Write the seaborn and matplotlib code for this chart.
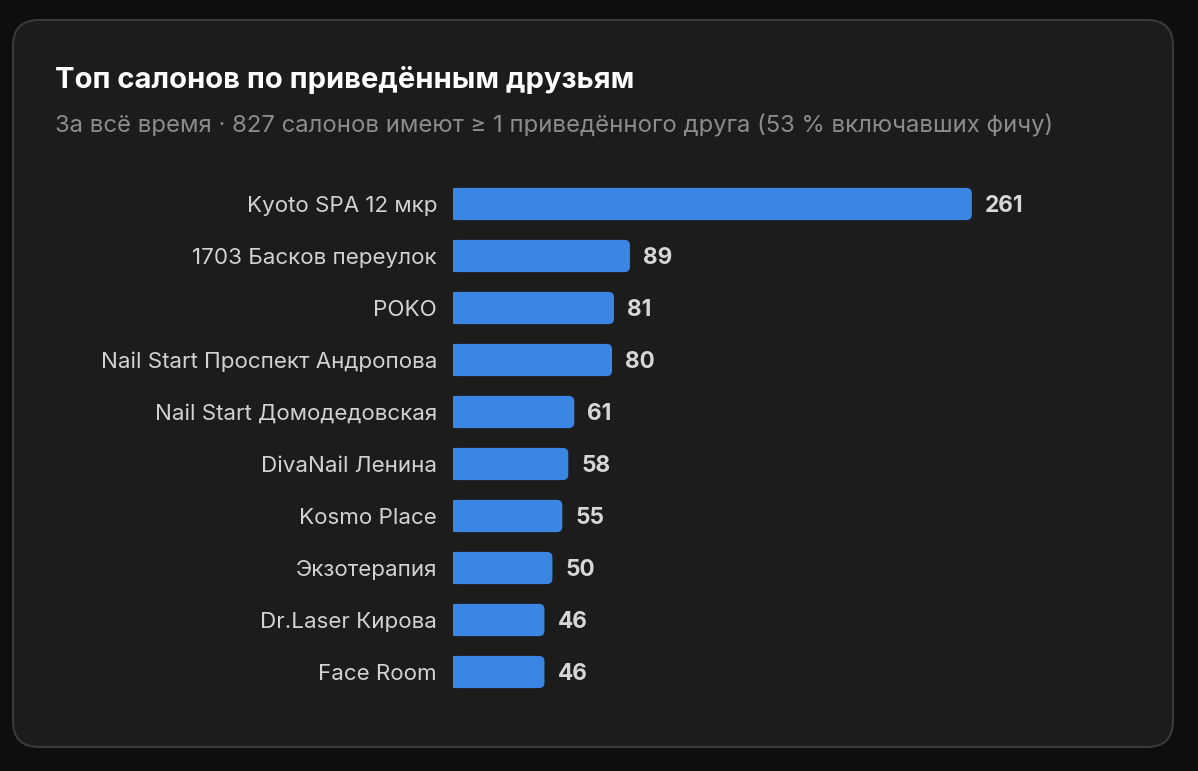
import matplotlib
matplotlib.use("Agg")
import matplotlib.pyplot as plt
from matplotlib.patches import FancyBboxPatch, Rectangle
from matplotlib.transforms import IdentityTransform
import pandas as pd
import seaborn as sns

salons = [
    "Kyoto SPA 12 мкр",
    "1703 Басков переулок",
    "POKO",
    "Nail Start Проспект Андропова",
    "Nail Start Домодедовская",
    "DivaNail Ленина",
    "Kosmo Place",
    "Экзотерапия",
    "Dr.Laser Кирова",
    "Face Room",
]
friends = [261, 89, 81, 80, 61, 58, 55, 50, 46, 46]

title = "Топ салонов по приведённым друзьям"
subtitle = "За всё время · 827 салонов имеют ≥ 1 приведённого друга (53 % включавших фичу)"

BG = "#0e0e0e"
CARD = "#1c1c1c"
EDGE = "#3a3a3a"
BAR = "#3a86e2"

sns.set_theme(style="dark")
plt.rcParams["font.family"] = ["Inter", "DejaVu Sans"]

W, H = 1198, 771
fig = plt.figure(figsize=(W / 100, H / 100), dpi=100)
fig.patch.set_facecolor(BG)

# card behind everything (pixel coordinates)
card = FancyBboxPatch((13, H - 747), 1160, 727,
                      boxstyle="round,pad=0,rounding_size=26",
                      facecolor=CARD, edgecolor=EDGE, linewidth=1.5,
                      transform=IdentityTransform(), zorder=-5)
fig.patches.append(card)

fig.text(55 / W, 1 - 80 / H, title, color="white", fontsize=21,
         fontweight="bold", va="center", ha="left")
fig.text(55 / W, 1 - 126 / H, subtitle, color="#8c8c8c", fontsize=17.2,
         va="center", ha="left")

ax_left, ax_right = 453, 1109
ax_top, ax_bot = 178, 698
ax = fig.add_axes([ax_left / W, 1 - ax_bot / H,
                   (ax_right - ax_left) / W, (ax_bot - ax_top) / H])
ax.set_facecolor("none")

df = pd.DataFrame({"salon": salons, "friends": friends})
sns.barplot(data=df, y="salon", x="friends", orient="h", color=BAR,
            width=0.62, saturation=1, ax=ax)

xmax = 330
ax.set_xlim(0, xmax)
ax.set_ylim(len(salons) - 0.5, -0.5)

# rounded right ends
px_per_x = (ax_right - ax_left) / xmax
px_per_y = (ax_bot - ax_top) / len(salons)
aspect = px_per_x / px_per_y
r = 5.5 / px_per_x
for p in list(ax.patches):
    x0, y0 = p.get_x(), p.get_y()
    w, h = p.get_width(), p.get_height()
    p.remove()
    ax.add_patch(FancyBboxPatch((x0, y0), w, h,
                                boxstyle=f"round,pad=0,rounding_size={r}",
                                mutation_aspect=aspect,
                                facecolor=BAR, edgecolor="none", zorder=2))
    ax.add_patch(Rectangle((x0, y0), w / 2, h, facecolor=BAR,
                           edgecolor="none", zorder=2))
    ax.text(x0 + w + 13 / px_per_x, y0 + h / 2, f"{w:.0f}",
            color="#d6d6d6", fontsize=16.3, fontweight="bold",
            va="center_baseline", ha="left")

ax.set_xlabel("")
ax.set_ylabel("")
ax.set_xticks([])
ax.tick_params(axis="y", length=0, pad=11.5, labelsize=16.1, labelcolor="#d2d2d2")
for s in ax.spines.values():
    s.set_visible(False)
ax.grid(False)

fig.savefig("out.png", dpi=100, facecolor=BG)
